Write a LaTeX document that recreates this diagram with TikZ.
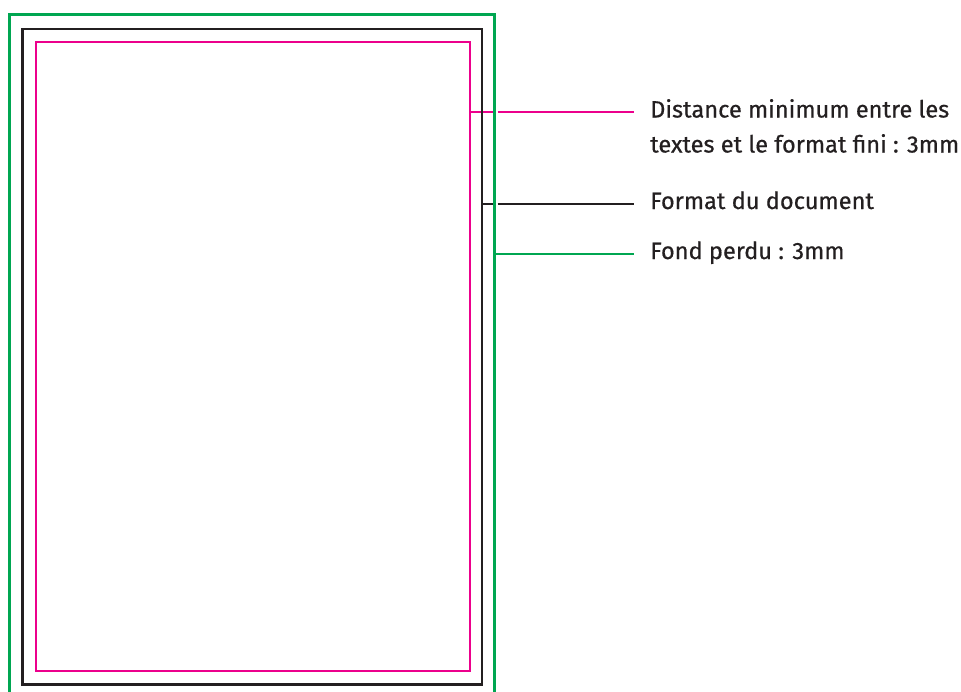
\documentclass[tikz,border=0pt]{standalone}
\usepackage{fontspec}
\setmainfont{Fira Sans}[FakeBold=0.6]
\usetikzlibrary{calc}

\definecolor{bleedgreen}{HTML}{00A651}
\definecolor{safepink}{HTML}{EC008C}
\definecolor{trimblack}{HTML}{231F20}

\tikzset{
  frame/.style={line width=2.2pt},
  leader/.style={line width=2.2pt},
  lbl/.style={anchor=base west, inner sep=0pt, align=left, text=trimblack,
    font=\fontsize{23.6}{35}\selectfont}
}

\begin{document}
\begin{tikzpicture}[x=1pt,y=-1pt]
  \useasboundingbox (0,0) rectangle (961,691);
  \clip (0,0) rectangle (961,691);

  % labels (base = last line)
  \node[lbl] (safelbl) at (650,152.5) {Distance minimum entre les\\textes et le format fini : 3mm};
  \node[lbl] (trimlbl) at (650,209) {Format du document};
  \node[lbl] (bleedlbl) at (650,259) {Fond perdu : 3mm};

  % leader ends
  \coordinate (safe-end) at ($(safelbl.base west)+(-16,-40.5)$);
  \coordinate (trim-end) at ($(trimlbl.base west)+(-16,-5)$);
  \coordinate (bleed-end) at ($(bleedlbl.base west)+(-16,-5)$);
  \coordinate (safe-r) at (470,112);
  \coordinate (safe-a) at (492.5,112);
  \coordinate (safe-b) at (497.5,112);
  \coordinate (trim-r) at (482,204);
  \coordinate (trim-a) at (492.5,204);
  \coordinate (trim-b) at (497.5,204);
  \coordinate (bleed-r) at (494.5,254);

  \draw[leader,safepink] (safe-r) -- (safe-a);
  \draw[leader,safepink] (safe-b) -- (safe-end);
  \draw[leader,trimblack] (trim-r) -- (trim-a);
  \draw[leader,trimblack] (trim-b) -- (trim-end);
  \draw[leader,bleedgreen] (bleed-r) -- (bleed-end);

  % frames
  \draw[frame,bleedgreen] (9.5,14.5) rectangle (494.5,710);
  \draw[frame,trimblack] (22.5,29) rectangle (482,684.5);
  \draw[frame,safepink] (36,42) rectangle (470,671);
\end{tikzpicture}
\end{document}
